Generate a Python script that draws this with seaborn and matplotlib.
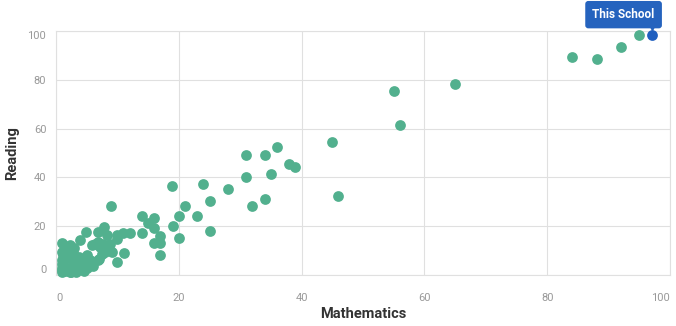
import matplotlib
matplotlib.use("Agg")
import matplotlib.pyplot as plt
import matplotlib.transforms as mtransforms
import pandas as pd
import seaborn as sns

# Percentile scores of schools in the district
math_scores = [
    94.9, 92.0, 84.1, 88.1, 65.0, 55.0, 56.0, 45.0, 46.0,
    31.0, 34.0, 36.0, 38.0, 39.0, 31.0, 35.0, 34.0, 32.0, 28.0,
    18.9, 24.0, 25.0, 21.0, 20.0, 23.0, 19.0, 25.0, 20.0, 17.0,
    14.0, 16.0, 15.0, 16.0, 14.0, 12.0, 17.0, 16.0, 17.0,
    9.0, 7.8, 10.9, 9.9, 8.8, 7.7, 7.2, 9.1, 11.0, 9.9,
    4.9, 3.9, 6.8, 5.8, 6.9, 5.0, 6.1, 3.7, 1.0, 1.8, 6.4,
    8.3, 9.9, 2.6, 6.9, 4.8, 1.0, 1.8, 3.1, 1.0,
    0.9, 1.0, 1.2, 0.9, 1.5, 2.0, 2.5, 3.0, 2.0, 1.2, 3.5,
    4.0, 4.5, 5.0, 1.0, 2.8, 3.2, 2.2, 6.0, 5.5, 4.2, 7.0,
    7.5, 8.0, 3.0, 2.2,
]
reading_scores = [
    98.5, 93.4, 89.5, 88.4, 78.4, 75.4, 61.4, 54.4, 32.3,
    49.3, 49.3, 52.3, 45.4, 44.3, 40.2, 41.3, 31.3, 28.2, 35.4,
    36.3, 37.3, 30.2, 28.3, 24.2, 24.2, 20.2, 18.2, 15.2, 8.2,
    24.2, 23.2, 21.2, 19.4, 17.2, 17.2, 16.1, 13.1, 13.0,
    28.2, 19.5, 17.2, 14.8, 12.7, 12.7, 11.6, 9.3, 8.9, 5.2,
    17.5, 14.3, 17.5, 12.3, 13.4, 8.2, 5.5, 7.3, 13.0, 11.0, 12.8,
    16.3, 16.3, 7.4, 6.0, 4.6, 4.6, 2.6, 2.6, 2.0,
    1.2, 3.0, 4.0, 6.0, 1.5, 3.0, 1.2, 5.0, 7.0, 8.0, 2.5,
    4.0, 1.5, 3.0, 9.5, 9.0, 1.2, 1.2, 3.5, 6.0, 6.5, 6.5,
    8.5, 9.5, 11.0, 12.5,
]
school_math = [97.0]
school_reading = [98.5]
school_label = "This School"

axis_ticks = [0, 20, 40, 60, 80, 100]

GREEN = "#52b08e"
BLUE = "#1f5fbf"
BOX = "#2563be"
GRID = "#e0e0e0"
TICK = "#999999"
TITLE = "#333333"

sns.set_style("white")
plt.rcParams["font.family"] = ["Roboto", "DejaVu Sans"]

others = pd.DataFrame({"Mathematics": math_scores, "Reading": reading_scores})
school = pd.DataFrame({"Mathematics": school_math, "Reading": school_reading})

fig = plt.figure(figsize=(6.76, 3.26), dpi=100)
ax = fig.add_axes([56 / 676, 1 - 275 / 326, 614 / 676, 244 / 326])

sns.scatterplot(data=others, x="Mathematics", y="Reading", color=GREEN,
                s=60, linewidth=0, ax=ax, clip_on=False, zorder=3)
sns.scatterplot(data=school, x="Mathematics", y="Reading", color=BLUE,
                s=60, linewidth=0, ax=ax, clip_on=False, zorder=4)

ax.set_xlim(0, 100)
ax.set_ylim(0, 100)
ax.set_xticks(axis_ticks)
ax.set_yticks(axis_ticks)
ax.set_xticklabels([str(t) for t in axis_ticks])
ax.set_yticklabels([str(t) for t in axis_ticks])
ax.grid(True, color=GRID, linewidth=0.8, zorder=0)
ax.set_axisbelow(True)
for sp in ax.spines.values():
    sp.set_color(GRID)
    sp.set_linewidth(0.8)

ax.tick_params(axis="both", length=0, labelsize=8, labelcolor=TICK)
ax.tick_params(axis="x", pad=13)
ax.tick_params(axis="y", pad=7)

# keep the end labels inside the plot frame
xl = ax.get_xticklabels()
xl[0].set_ha("left")
xl[-1].set_ha("right")
yl = ax.get_yticklabels()
yl[0].set_va("bottom")
yl[-1].set_va("top")

ax.set_xlabel("Mathematics", fontsize=10.5, color=TITLE, fontweight="bold", labelpad=3)
ax.set_ylabel("Reading", fontsize=10.5, color=TITLE, fontweight="bold", labelpad=6)

# callout above the highlighted school
ax.annotate(school_label, xy=(school_math[0], school_reading[0]), xycoords="data",
            xytext=(-28, 20), textcoords="offset pixels",
            ha="center", va="center", fontsize=8.5, fontweight="bold", color="white",
            bbox=dict(boxstyle="round,pad=0.55,rounding_size=0.2", fc=BOX, ec=BOX),
            zorder=6, annotation_clip=False)
pointer = mtransforms.offset_copy(ax.transData, fig=fig, x=0, y=8, units="dots")
ax.plot(school_math, school_reading, marker="v", markersize=5, color=BOX,
        transform=pointer, clip_on=False, zorder=6, linestyle="none")

fig.savefig("out.png", dpi=100)
